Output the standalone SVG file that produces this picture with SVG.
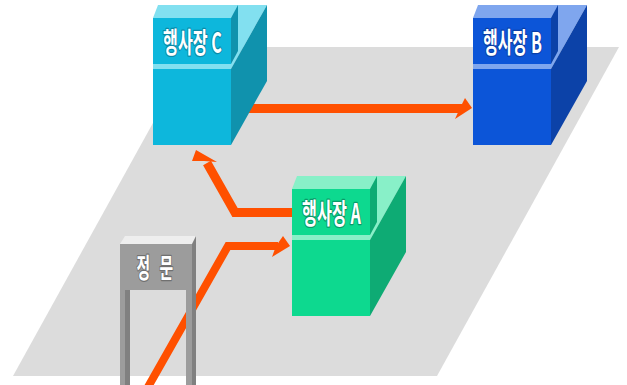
<svg xmlns="http://www.w3.org/2000/svg" width="627" height="385" viewBox="0 0 627 385">
<style>
.lbl{font-family:"Noto Sans CJK KR","Noto Sans",sans-serif;font-weight:700;font-size:28px;fill:#fff;stroke-width:2.500px;paint-order:stroke;stroke-linejoin:round}
.ln{fill:none;stroke:#ff5000;stroke-width:9}
.hd{fill:#ff5000}
.c .f{fill:#0db7dc}.c .l{fill:#82e0f0}.c .d{fill:#1092ad}.c .lbl{stroke:#0a8aa8}
.b .f{fill:#0c55d8}.b .l{fill:#7fa6ee}.b .d{fill:#0c42a8}.b .lbl{stroke:#0a3fa8}
.a .f{fill:#0dd98f}.a .l{fill:#88f0c8}.a .d{fill:#0eab74}.a .lbl{stroke:#0a9a68}
</style>
<polygon id="floor" points="195,47 619,47 437,376 13,376" fill="#dcdcdc"/>
<g id="connectors">
<polyline class="ln" style="stroke-width:8" points="148,387 228,246 278,246"/>
<polygon class="hd" points="290,246 283,236 276,246 272,257"/>
<polyline class="ln" points="292,212.500 235,212.500 207,163"/>
<polygon class="hd" points="196,150 217,162 204,161 192,161"/>
<polyline class="ln" points="240,108.500 462,108.500"/>
<polygon class="hd" points="472,108 465,98 460,108 455,119"/>
</g>
<g id="gate">
<polygon points="120,244 125,236 196,236 192,244" fill="#eeeeee"/>
<polygon points="192,244 196,236 196,385 192,385" fill="#808080"/>
<rect x="120" y="244" width="72" height="46" fill="#9c9c9c"/>
<rect x="120" y="290" width="10" height="95" fill="#9c9c9c"/>
<rect x="125" y="290" width="5" height="95" fill="#808080"/>
<rect x="186" y="290" width="6" height="95" fill="#9c9c9c"/>
<text class="lbl" transform="translate(136.500,278) scale(.55,1)" style="stroke:#707070;font-size:27px"><tspan x="0">정</tspan><tspan x="42">문</tspan></text>
</g>
<g id="node-a" class="a" transform="translate(292,189)">
<polygon class="l" points="5,-13 85,-13 114,-13 78,51 0,51 0,0"/>
<polygon class="d" points="78,0 85,-13 85,33 78,46"/>
<polygon class="d" points="78,51 114,-13 114,63 78,127"/>
<rect class="f" x="0" y="0" width="78" height="46"/>
<rect class="l" x="0" y="46" width="78" height="5"/>
<rect class="f" x="0" y="51" width="78" height="76"/>
<text class="lbl" x="10" y="35" textLength="59" lengthAdjust="spacingAndGlyphs">행사장 A</text>
</g>
<g id="node-b" class="b" transform="translate(473,18)">
<polygon class="l" points="5,-13 85,-13 114,-13 78,51 0,51 0,0"/>
<polygon class="d" points="78,0 85,-13 85,33 78,46"/>
<polygon class="d" points="78,51 114,-13 114,63 78,127"/>
<rect class="f" x="0" y="0" width="78" height="46"/>
<rect class="l" x="0" y="46" width="78" height="5"/>
<rect class="f" x="0" y="51" width="78" height="76"/>
<text class="lbl" x="10" y="35" textLength="59" lengthAdjust="spacingAndGlyphs">행사장 B</text>
</g>
<g id="node-c" class="c" transform="translate(153,18)">
<polygon class="l" points="5,-13 85,-13 114,-13 78,51 0,51 0,0"/>
<polygon class="d" points="78,0 85,-13 85,33 78,46"/>
<polygon class="d" points="78,51 114,-13 114,63 78,127"/>
<rect class="f" x="0" y="0" width="78" height="46"/>
<rect class="l" x="0" y="46" width="78" height="5"/>
<rect class="f" x="0" y="51" width="78" height="76"/>
<text class="lbl" x="10" y="35" textLength="59" lengthAdjust="spacingAndGlyphs">행사장 C</text>
</g>
</svg>
